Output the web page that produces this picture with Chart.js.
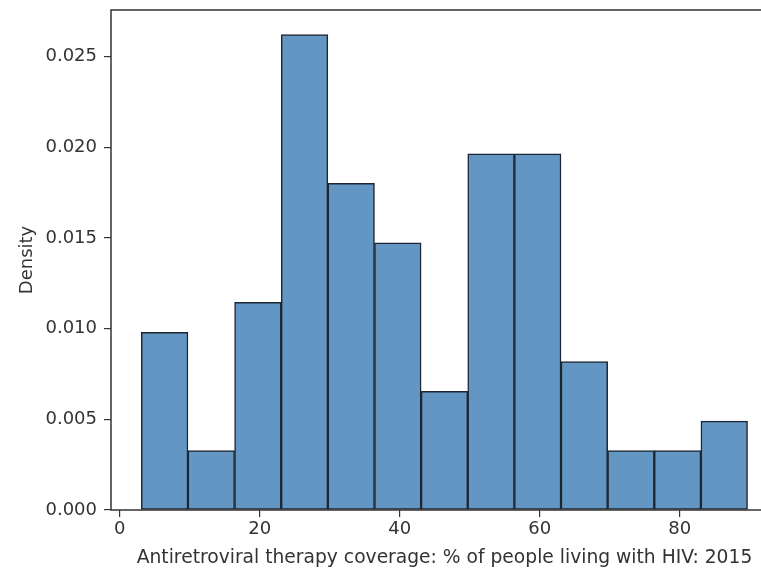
<!DOCTYPE html>
<html>
<head>
<meta charset="utf-8">
<script src="https://cdn.jsdelivr.net/npm/chart.js@4"></script>
<style>
html, body { margin: 0; padding: 0; background: #fff; overflow: hidden; }
#wrap { position: relative; width: 800px; height: 569px; }
</style>
</head>
<body>
<div id="wrap"><canvas id="hist" width="800" height="569"></canvas></div>
<script>
// bin edges and densities
var binEdges = [3.1, 9.76, 16.42, 23.08, 29.74, 36.4, 43.06, 49.72, 56.38, 63.04, 69.7, 76.36, 83.02, 89.68];
var densities = [0.0098, 0.00327, 0.01144, 0.0262, 0.0180, 0.01472, 0.00654, 0.01963, 0.01963, 0.00818, 0.00327, 0.00327, 0.0049];
var xTitle = 'Antiretroviral therapy coverage: % of people living with HIV: 2015';
var yTitle = 'Density';

var points = densities.map(function (d, i) {
    return { x: (binEdges[i] + binEdges[i + 1]) / 2, y: d };
});

var textColor = '#333333';
var fontFamily = '"DejaVu Sans", sans-serif';
var fontSize = 18;

// frame around the plot area (left, top, bottom spines; right one is off screen)
var framePlugin = {
    id: 'frame',
    afterDraw: function (chart) {
        var a = chart.chartArea;
        var ctx = chart.ctx;
        ctx.save();
        ctx.strokeStyle = '#333333';
        ctx.lineWidth = 1.5;
        ctx.strokeRect(a.left, a.top, a.right - a.left, a.bottom - a.top);
        ctx.restore();
    }
};

new Chart(document.getElementById('hist').getContext('2d'), {
    type: 'bar',
    data: {
        datasets: [{
            data: points,
            backgroundColor: 'rgb(99,150,195)',
            borderColor: '#1c2733',
            borderWidth: 1.5,
            borderSkipped: false,
            barPercentage: 1,
            categoryPercentage: 1
        }]
    },
    options: {
        responsive: false,
        animation: false,
        layout: { padding: { left: 0, top: 10, right: 22, bottom: 0 } },
        plugins: {
            legend: { display: false },
            tooltip: { enabled: false }
        },
        scales: {
            x: {
                type: 'linear',
                offset: false,
                min: -1.23,
                max: 94.03,
                afterFit: function (s) { s.height = 59; s.paddingLeft = 0; s.paddingRight = 0; },
                grid: { display: true, offset: false, drawOnChartArea: false, tickLength: 7, tickColor: '#333333', lineWidth: 1.2 },
                border: { display: false },
                ticks: {
                    stepSize: 20,
                    includeBounds: false,
                    maxRotation: 0,
                    padding: 2,
                    color: textColor,
                    font: { family: fontFamily, size: fontSize }
                },
                title: {
                    display: true,
                    text: xTitle,
                    color: textColor,
                    padding: { top: 0, bottom: 0 },
                    font: { family: fontFamily, size: 18.7 }
                }
            },
            y: {
                min: 0,
                max: 0.02756,
                afterFit: function (s) { s.width = 111; s.paddingTop = 0; s.paddingBottom = 0; },
                grid: { display: true, drawOnChartArea: false, tickLength: 7, tickColor: '#333333', lineWidth: 1.2 },
                border: { display: false },
                ticks: {
                    stepSize: 0.005,
                    includeBounds: false,
                    padding: 7,
                    color: textColor,
                    font: { family: fontFamily, size: fontSize },
                    callback: function (v) { return v.toFixed(3); }
                },
                title: {
                    display: true,
                    text: yTitle,
                    color: textColor,
                    padding: { top: 17, bottom: 0 },
                    font: { family: fontFamily, size: fontSize }
                }
            }
        }
    },
    plugins: [framePlugin]
});
</script>
</body>
</html>
